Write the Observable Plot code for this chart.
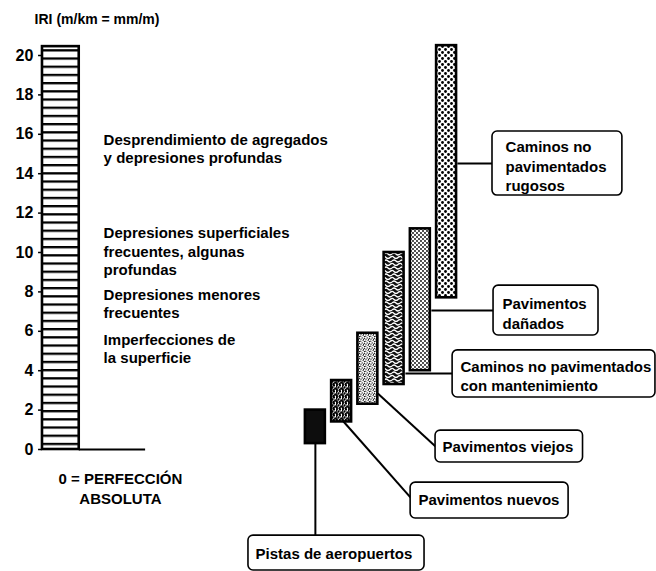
<!DOCTYPE html>
<html><head><meta charset="utf-8">
<script src="https://cdn.jsdelivr.net/npm/d3@7"></script>
<script src="https://cdn.jsdelivr.net/npm/@observablehq/plot@0.6"></script>
<style>
body{margin:0;background:#fff}
#chart svg text{font-family:"Liberation Sans",Arial,Helvetica,sans-serif}
</style>
</head><body><div id="chart"></div>
<script>
// ---------- data ----------
const axisTitle = "IRI (m/km = mm/m)";
const tickValues = [0, 2, 4, 6, 8, 10, 12, 14, 16, 18, 20];
const scaleBarRange = [0, 20.45];
const categories = [
  "Pistas de aeropuertos",
  "Pavimentos nuevos",
  "Pavimentos viejos",
  "Caminos no pavimentados con mantenimiento",
  "Pavimentos dañados",
  "Caminos no pavimentados rugosos"
];
const iriLow  = [0.3, 1.4, 2.3, 3.3, 4.0, 7.7];
const iriHigh = [2.0, 3.5, 5.9, 10.0, 11.2, 20.5];
const boxLabels = [
  "Pistas de aeropuertos",
  "Pavimentos nuevos",
  "Pavimentos viejos",
  "Caminos no pavimentados\ncon mantenimiento",
  "Pavimentos\ndañados",
  "Caminos no\npavimentados\nrugosos"
];
const descriptions = [
  "Desprendimiento de agregados\ny depresiones profundas",
  "Depresiones superficiales\nfrecuentes, algunas\nprofundas",
  "Depresiones menores\nfrecuentes",
  "Imperfecciones de\nla superficie"
];
const descriptionLevels = [15.3, 10.1, 7.44, 5.15];
const originNote = "0 = PERFECCIÓN\nABSOLUTA";

// ---------- layout (scale units: x 0..25, y in IRI) ----------
const firstBarPos = 12, barHalf = 0.38;
const scaleBarX = [1.6, 3.0];
const baseLineX = [3.0, 5.53];
const tickLabelX = 1.25, tickMarkX = [1.45, 1.6];
const titlePos = {x: 1.3, y: 21.85};
const descX = 3.93;
const originPos = {x: 4.57, y: -1.93};
const patterns = ["url(#pAir)", "url(#pNew)", "url(#pOld)", "url(#pMaint)", "url(#pDamaged)", "url(#pRough)"];
const boxLayout = [
  {box: [9.45, 16.16, -4.37, -6.14], text: [9.72, -5.23], leader: [[12.0, 0.3], [12.0, -4.37]]},
  {box: [15.63, 21.65, -1.68, -3.5], text: [15.93, -2.49], leader: [[13.07, 1.42], [15.63, -2.44]]},
  {box: [16.58, 22.2, 0.96, -0.66], text: [16.84, 0.2], leader: [[14.38, 2.84], [16.58, 0.15]]},
  {box: [17.23, 24.96, 5.03, 2.64], text: [17.53, 3.76], leader: [[15.43, 3.86], [17.23, 3.86]]},
  {box: [18.79, 22.79, 8.32, 5.79], text: [19.13, 6.95], leader: [[16.42, 7.06], [18.79, 7.06]]},
  {box: [18.75, 23.7, 16.14, 12.89], text: [19.25, 14.42], leader: [[17.41, 14.52], [18.75, 14.52]]}
];

const rows = categories.map((c, i) => ({
  category: c, low: iriLow[i], high: iriHigh[i], pos: firstBarPos + i,
  label: boxLabels[i], fill: patterns[i], ...boxLayout[i]
}));

const bold = {fontWeight: "bold", fill: "#000"};

const svg = Plot.plot({
  width: 656, height: 571, margin: 0,
  style: {background: "#fff", overflow: "visible"},
  x: {domain: [0, 25], range: [0, 656], axis: null},
  y: {domain: [0, 20], range: [449, 55], axis: null},
  marks: [
    // leader lines
    Plot.link(rows, {x1: d => d.leader[0][0], y1: d => d.leader[0][1], x2: d => d.leader[1][0], y2: d => d.leader[1][1], stroke: "#000", strokeWidth: 2}),
    // label boxes
    Plot.rect(rows, {x1: d => d.box[0], x2: d => d.box[1], y1: d => d.box[2], y2: d => d.box[3], rx: 5, fill: "#fff", stroke: "#000", strokeWidth: 1.6}),
    Plot.text(rows, {x: d => d.text[0], y: d => d.text[1], text: "label", textAnchor: "start", lineAnchor: "middle", lineHeight: 1.3, fontSize: 15, ...bold}),
    // range bars
    ...rows.map(r => Plot.rect([r], {x1: d => d.pos - barHalf, x2: d => d.pos + barHalf, y1: "low", y2: "high", fill: r.fill, stroke: "#000", strokeWidth: 2.6})),
    // scale bar
    Plot.rect([scaleBarRange], {x1: scaleBarX[0], x2: scaleBarX[1], y1: d => d[0], y2: d => d[1], fill: "url(#stripes)", stroke: "#000", strokeWidth: 2.6}),
    Plot.ruleY([0], {x1: baseLineX[0], x2: baseLineX[1], stroke: "#000", strokeWidth: 2.2}),
    Plot.ruleY(tickValues, {x1: tickMarkX[0], x2: tickMarkX[1], stroke: "#000", strokeWidth: 1.5}),
    Plot.text(tickValues, {x: tickLabelX, y: d => d, text: d => String(d), textAnchor: "end", fontSize: 16, ...bold}),
    Plot.text([axisTitle], {x: titlePos.x, y: titlePos.y, text: d => d, textAnchor: "start", fontSize: 14, ...bold}),
    Plot.text(descriptions, {x: descX, y: (d, i) => descriptionLevels[i], text: d => d, textAnchor: "start", lineAnchor: "middle", lineHeight: 1.25, fontSize: 15, ...bold}),
    Plot.text([originNote], {x: originPos.x, y: originPos.y, text: d => d, textAnchor: "middle", lineAnchor: "middle", lineHeight: 1.3, fontSize: 15, ...bold})
  ]
});

// ---------- fill patterns ----------
const defs = d3.select(svg).insert("defs", ":first-child");
function pat(id, w, h, build) {
  const p = defs.append("pattern").attr("id", id).attr("patternUnits", "userSpaceOnUse").attr("width", w).attr("height", h);
  build(p, w, h);
}
const bg = (p, w, h, c) => p.append("rect").attr("width", w).attr("height", h).attr("fill", c);
const dot = (p, x, y, r, c = "#000") => p.append("circle").attr("cx", x).attr("cy", y).attr("r", r).attr("fill", c);
pat("stripes", 8, 8.2, (p, w, h) => { bg(p, w, h, "#fff"); p.append("rect").attr("width", w).attr("height", 2.3).attr("fill", "#000"); });
pat("pAir", 4, 4, (p, w, h) => { bg(p, w, h, "#0d0d0d"); });
pat("pNew", 6, 6, (p, w, h) => {
  bg(p, w, h, "#fff");
  [[1, 1], [4, 1.5], [2.5, 3.5], [5.2, 4.5], [0.8, 5.2], [3.5, 0.2], [3.8, 5.8], [0.2, 2.8]].forEach(([x, y]) => dot(p, x, y, 1.15));
});
pat("pOld", 5, 5, (p, w, h) => {
  bg(p, w, h, "#fff");
  [[0.8, 1.2], [3.1, 0.6], [2.2, 2.9], [4.3, 3.4], [1.0, 4.2], [3.6, 4.6], [4.5, 1.6]].forEach(([x, y]) => dot(p, x, y, 0.6));
});
pat("pMaint", 8, 7, (p, w, h) => {
  bg(p, w, h, "#111");
  p.append("path").attr("d", "M0,2 Q2,0 4,2 T8,2").attr("fill", "none").attr("stroke", "#fff").attr("stroke-width", 1.2);
  p.append("path").attr("d", "M-2,5.5 Q0,3.5 2,5.5 T6,5.5 T10,5.5").attr("fill", "none").attr("stroke", "#fff").attr("stroke-width", 1.2);
});
pat("pDamaged", 4, 4, (p, w, h) => { bg(p, w, h, "#fff"); dot(p, 1, 1, 0.9); dot(p, 3, 3, 0.9); });
pat("pRough", 6, 6, (p, w, h) => { bg(p, w, h, "#fff"); dot(p, 1.5, 1.5, 1.4); dot(p, 4.5, 4.5, 1.4); });

document.getElementById("chart").appendChild(svg);
</script>
</body></html>
